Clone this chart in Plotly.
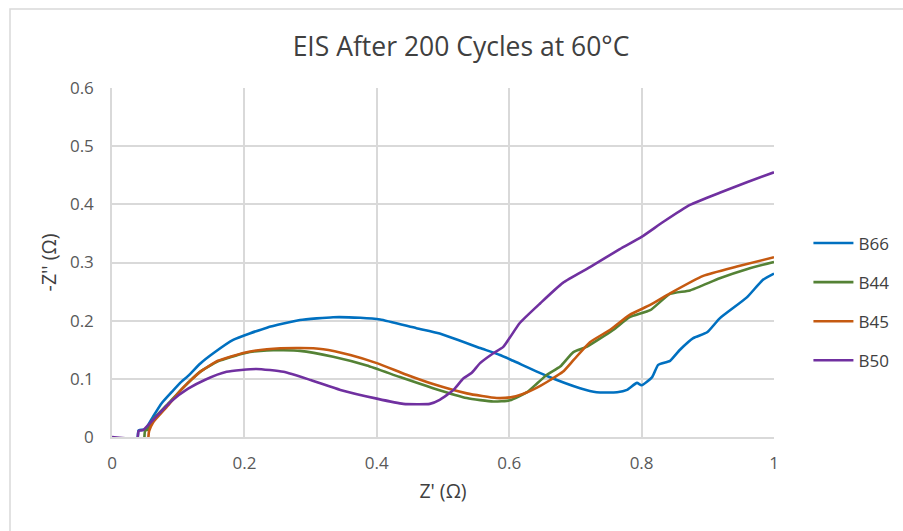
import plotly.graph_objects as go

# Nyquist data (Z' vs -Z'') for each cell, in ohms
b66_x = [0.039, 0.040, 0.042, 0.050, 0.062, 0.075, 0.090, 0.103, 0.115, 0.133, 0.153,
         0.183, 0.234, 0.284, 0.334, 0.375, 0.405, 0.460, 0.495, 0.556, 0.586, 0.606,
         0.657, 0.707, 0.732, 0.763, 0.778, 0.793, 0.800, 0.816, 0.825, 0.838, 0.843,
         0.858, 0.878, 0.899, 0.918, 0.959, 0.983, 1.000]
b66_y = [0.000, 0.011, 0.012, 0.013, 0.035, 0.058, 0.077, 0.093, 0.105, 0.126, 0.144,
         0.167, 0.188, 0.201, 0.206, 0.205, 0.202, 0.187, 0.178, 0.153, 0.141, 0.131,
         0.105, 0.084, 0.077, 0.077, 0.081, 0.093, 0.089, 0.103, 0.124, 0.129, 0.131,
         0.150, 0.170, 0.180, 0.204, 0.240, 0.270, 0.281]

b44_x = [0.049, 0.050, 0.053, 0.062, 0.083, 0.105, 0.133, 0.160, 0.200, 0.234, 0.284,
         0.334, 0.385, 0.435, 0.485, 0.536, 0.576, 0.601, 0.627, 0.642, 0.657, 0.677,
         0.697, 0.717, 0.757, 0.782, 0.813, 0.843, 0.873, 0.918, 0.960, 1.000]
b44_y = [0.000, 0.011, 0.012, 0.030, 0.055, 0.082, 0.112, 0.130, 0.144, 0.149, 0.148,
         0.138, 0.123, 0.103, 0.084, 0.067, 0.061, 0.063, 0.077, 0.092, 0.107, 0.121,
         0.146, 0.155, 0.184, 0.206, 0.218, 0.246, 0.252, 0.273, 0.289, 0.301]

b45_x = [0.055, 0.056, 0.062, 0.083, 0.105, 0.133, 0.160, 0.200, 0.234, 0.284, 0.319,
         0.360, 0.400, 0.445, 0.485, 0.536, 0.581, 0.606, 0.627, 0.647, 0.662, 0.681,
         0.697, 0.722, 0.752, 0.782, 0.813, 0.843, 0.893, 0.944, 1.000]
b45_y = [0.000, 0.010, 0.025, 0.052, 0.082, 0.112, 0.131, 0.145, 0.151, 0.153, 0.151,
         0.141, 0.127, 0.107, 0.091, 0.075, 0.067, 0.069, 0.077, 0.088, 0.098, 0.112,
         0.132, 0.163, 0.184, 0.210, 0.227, 0.247, 0.277, 0.293, 0.309]

b50_x = [0.000, 0.038, 0.040, 0.042, 0.047, 0.065, 0.090, 0.115, 0.140, 0.173, 0.218,
         0.259, 0.300, 0.345, 0.400, 0.440, 0.480, 0.495, 0.516, 0.531, 0.543, 0.556,
         0.576, 0.591, 0.616, 0.647, 0.681, 0.722, 0.767, 0.800, 0.833, 0.873, 0.918,
         0.959, 1.000]
b50_y = [0.000, -0.002, 0.010, 0.011, 0.012, 0.033, 0.062, 0.083, 0.098, 0.112, 0.117,
         0.112, 0.098, 0.081, 0.066, 0.057, 0.057, 0.064, 0.081, 0.101, 0.110, 0.127,
         0.144, 0.155, 0.196, 0.230, 0.265, 0.292, 0.323, 0.344, 0.370, 0.399, 0.420,
         0.438, 0.455]

series = [
    ("B66", b66_x, b66_y, "#0070C0"),
    ("B44", b44_x, b44_y, "#548235"),
    ("B45", b45_x, b45_y, "#C55A11"),
    ("B50", b50_x, b50_y, "#7030A0"),
]

x_ticks = [0, 0.2, 0.4, 0.6, 0.8, 1]
x_tick_text = ["0", "0.2", "0.4", "0.6", "0.8", "1"]
y_ticks = [0, 0.1, 0.2, 0.3, 0.4, 0.5, 0.6]
y_tick_text = ["0", "0.1", "0.2", "0.3", "0.4", "0.5", "0.6"]

font_family = "Open Sans, Liberation Sans, sans-serif"
grid_color = "#D9D9D9"
label_color = "#595959"
text_color = "#404040"

fig = go.Figure()
for i, (name, xs, ys, color) in enumerate(series):
    fig.add_trace(go.Scatter(
        x=xs, y=ys, name=name, mode="lines",
        line=dict(color=color, width=2.6, shape="spline", smoothing=0.5),
        legendgroup=f"g{i}",
    ))

fig.update_layout(
    width=903, height=531,
    margin=dict(l=112, r=129, t=88, b=94, autoexpand=False),
    paper_bgcolor="white", plot_bgcolor="white",
    font=dict(family=font_family, color=label_color, size=17),
    title=dict(
        text="EIS After 200 Cycles at 60°C",
        x=461 / 903, xanchor="center", y=1 - 47 / 531, yanchor="middle",
        font=dict(size=26.5, color=text_color, family=font_family),
    ),
    showlegend=True,
    legend=dict(
        x=1.052, xanchor="left", y=0.387, yanchor="middle",
        font=dict(size=17, color=text_color, family=font_family),
        tracegroupgap=14, itemwidth=40, bgcolor="rgba(0,0,0,0)",
    ),
    xaxis=dict(
        range=[0, 1], tickvals=x_ticks, ticktext=x_tick_text,
        showgrid=True, gridcolor=grid_color, gridwidth=1.5,
        showline=True, linecolor=grid_color, linewidth=1.5,
        zeroline=False, ticks="", ticklabelstandoff=10,
        title=dict(text="Z' (Ω)", standoff=11, font=dict(size=19.5, color=text_color)),
    ),
    yaxis=dict(
        range=[0, 0.6], tickvals=y_ticks, ticktext=y_tick_text,
        showgrid=True, gridcolor=grid_color, gridwidth=1.5,
        showline=True, linecolor=grid_color, linewidth=1.5,
        zeroline=False, ticks="", ticklabelstandoff=13,
        title=dict(text="-Z'' (Ω)", standoff=8, font=dict(size=19.5, color=text_color)),
    ),
    shapes=[dict(
        type="rect", xref="paper", yref="paper",
        x0=(10 - 112) / 662, x1=1.3, y0=-0.5, y1=(437 - 9) / 349,
        line=dict(color=grid_color, width=1.5), fillcolor="rgba(0,0,0,0)",
        layer="below",
    )],
)

fig.write_html("out.html")
